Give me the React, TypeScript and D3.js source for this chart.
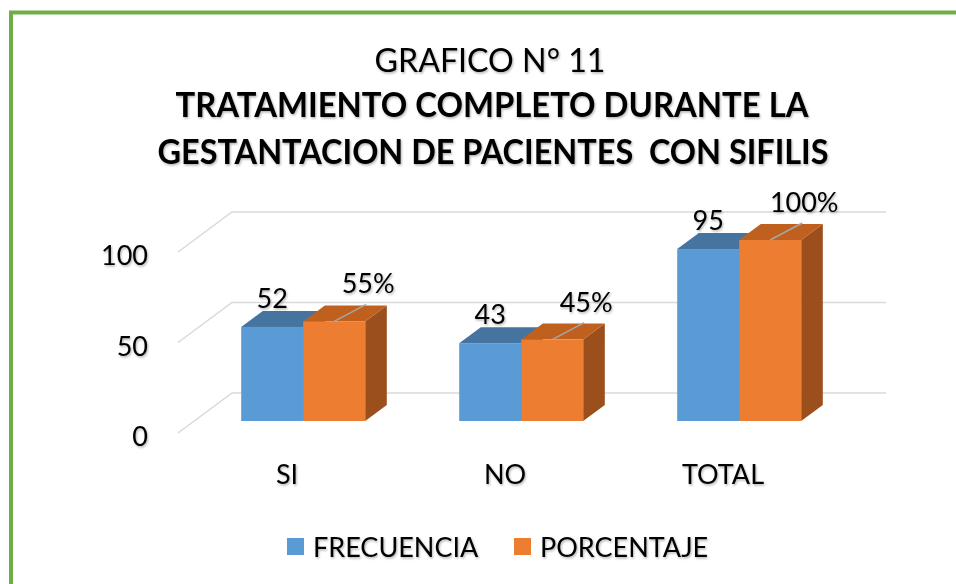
import React, { useEffect, useRef } from 'react';
import * as d3 from 'd3';

const categories = ['SI', 'NO', 'TOTAL'];
const frecuencia = [52, 43, 95];
const porcentaje = [55, 45, 100];
const porcentajeLabels = ['55%', '45%', '100%'];
const yTicks = [0, 50, 100];
const seriesNames = ['FRECUENCIA', 'PORCENTAJE'];

const App: React.FC = () => {
    const svgRef = useRef<SVGSVGElement>(null);

    useEffect(() => {
        d3.select(svgRef.current).selectAll('*').remove();

        const width = 956;
        const height = 584;
        const font = 'Lato, Calibri, Carlito, sans-serif';

        const svg = d3.select(svgRef.current)
            .attr('width', width)
            .attr('height', height)
            .style('background', '#ffffff');

        // soft text shadow like the office chart
        const defs = svg.append('defs');
        defs.append('filter')
            .attr('id', 'tshadow')
            .attr('x', '-10%').attr('y', '-20%').attr('width', '130%').attr('height', '150%')
            .append('feDropShadow')
            .attr('dx', 1).attr('dy', 1.5).attr('stdDeviation', 1.2)
            .attr('flood-color', '#000').attr('flood-opacity', 0.3);

        // green frame
        svg.append('rect')
            .attr('x', 11).attr('y', 12.5)
            .attr('width', width + 20).attr('height', height + 20)
            .attr('fill', 'none')
            .attr('stroke', '#70ad47')
            .attr('stroke-width', 4);

        // 3D projection: depth z in [0,1] shifts right and up
        const depthX = 54;
        const depthY = -40;
        const x = d3.scaleBand<string>().domain(categories).range([178, 832]);
        const y = d3.scaleLinear().domain([0, 100]).range([433, 252]);
        const px = (v: number, z: number) => v + depthX * z;
        const py = (v: number, z: number) => v + depthY * z;

        // gridlines: back wall + floor diagonal
        const grid = svg.append('g').attr('stroke', '#d9d9d9').attr('stroke-width', 1.5).attr('fill', 'none');
        yTicks.forEach(t => {
            grid.append('path').attr('d', d3.line()([
                [px(x.range()[0], 0), y(t)],
                [px(x.range()[0], 1), py(y(t), 1)],
                [px(x.range()[1], 1), py(y(t), 1)],
            ]));
        });

        // y axis labels
        svg.append('g')
            .selectAll('text')
            .data(yTicks)
            .join('text')
            .attr('x', 148)
            .attr('y', d => y(d) + 13)
            .attr('text-anchor', 'end')
            .attr('font-family', font)
            .attr('font-size', 27)
            .attr('fill', '#000')
            .attr('filter', 'url(#tshadow)')
            .text(d => d);

        // bars
        const groupW = 124;
        const barW = groupW / 2;
        const z0 = 0.3;
        const z1 = 0.7;
        const dz = z1 - z0;
        const colors = [
            { front: '#5b9bd5', top: '#4674a0', side: '#3f6a93' },
            { front: '#ed7d31', top: '#c0601f', side: '#9b4f1d' },
        ];
        const series = [frecuencia, porcentaje];
        const bars = svg.append('g');

        categories.forEach((c, i) => {
            const gx = (x(c) as number) + x.bandwidth() / 2 - groupW / 2;
            series.forEach((vals, s) => {
                const x0 = px(gx + s * barW, z0);
                const x1 = x0 + barW;
                const yb = py(y(0), z0);
                const yt = py(y(vals[i]), z0);
                const ox = depthX * dz;
                const oy = depthY * dz;
                const col = colors[s];
                bars.append('path')
                    .attr('d', d3.line()([[x1, yt], [x1 + ox, yt + oy], [x1 + ox, yb + oy], [x1, yb]]) + 'Z')
                    .attr('fill', col.side);
                bars.append('path')
                    .attr('d', d3.line()([[x0, yt], [x1, yt], [x1 + ox, yt + oy], [x0 + ox, yt + oy]]) + 'Z')
                    .attr('fill', col.top);
                bars.append('rect')
                    .attr('x', x0).attr('y', yt)
                    .attr('width', barW).attr('height', yb - yt)
                    .attr('fill', col.front);
            });
        });

        // data labels
        const labels = svg.append('g')
            .attr('font-family', font)
            .attr('font-size', 27)
            .attr('fill', '#000')
            .attr('text-anchor', 'middle');

        categories.forEach((c, i) => {
            const gx = (x(c) as number) + x.bandwidth() / 2 - groupW / 2;
            const bx = px(gx, z0);
            const ytB = py(y(frecuencia[i]), z0);
            labels.append('text')
                .attr('x', bx + barW / 2)
                .attr('y', ytB - 19)
                .attr('filter', 'url(#tshadow)')
                .text(frecuencia[i]);

            const ox = bx + barW + barW / 2;
            const ytO = py(y(porcentaje[i]), z0);
            labels.append('line')
                .attr('x1', ox).attr('y1', ytO)
                .attr('x2', ox + 32).attr('y2', ytO - 17)
                .attr('stroke', '#a6a6a6')
                .attr('stroke-width', 1.5);
            labels.append('text')
                .attr('x', ox + 34)
                .attr('y', ytO - 28)
                .attr('filter', 'url(#tshadow)')
                .text(porcentajeLabels[i]);
        });

        // category labels
        svg.append('g')
            .selectAll('text')
            .data(categories)
            .join('text')
            .attr('x', d => (x(d) as number) + x.bandwidth() / 2)
            .attr('y', 484)
            .attr('text-anchor', 'middle')
            .attr('font-family', font)
            .attr('font-size', 27)
            .attr('fill', '#000')
            .attr('filter', 'url(#tshadow)')
            .text(d => d);

        // legend
        const legend = svg.append('g').attr('font-family', font).attr('font-size', 27);
        const legendX = [287, 514];
        seriesNames.forEach((name, s) => {
            legend.append('rect')
                .attr('x', legendX[s]).attr('y', 538)
                .attr('width', 17).attr('height', 17)
                .attr('fill', colors[s].front);
            legend.append('text')
                .attr('x', legendX[s] + 26)
                .attr('y', 557)
                .attr('fill', '#000')
                .attr('filter', 'url(#tshadow)')
                .text(name);
        });

        // titles
        const title = svg.append('g')
            .attr('font-family', font)
            .attr('fill', '#000')
            .attr('text-anchor', 'middle')
            .attr('filter', 'url(#tshadow)');
        title.append('text')
            .attr('x', 490).attr('y', 72)
            .attr('font-size', 33)
            .attr('textLength', 231)
            .attr('lengthAdjust', 'spacingAndGlyphs')
            .text('GRAFICO N° 11');
        title.append('text')
            .attr('x', 492).attr('y', 117)
            .attr('font-size', 34)
            .attr('font-weight', 'bold')
            .attr('textLength', 633)
            .attr('lengthAdjust', 'spacingAndGlyphs')
            .text('TRATAMIENTO COMPLETO DURANTE LA');
        title.append('text')
            .attr('x', 493).attr('y', 164)
            .attr('font-size', 34)
            .attr('font-weight', 'bold')
            .attr('textLength', 671)
            .attr('lengthAdjust', 'spacingAndGlyphs')
            .style('white-space', 'pre')
            .text('GESTANTACION DE PACIENTES  CON SIFILIS');
    }, []);

    return <svg ref={svgRef} style={{ position: 'absolute', left: 0, top: 0, display: 'block' }}></svg>;
};

export default App;
